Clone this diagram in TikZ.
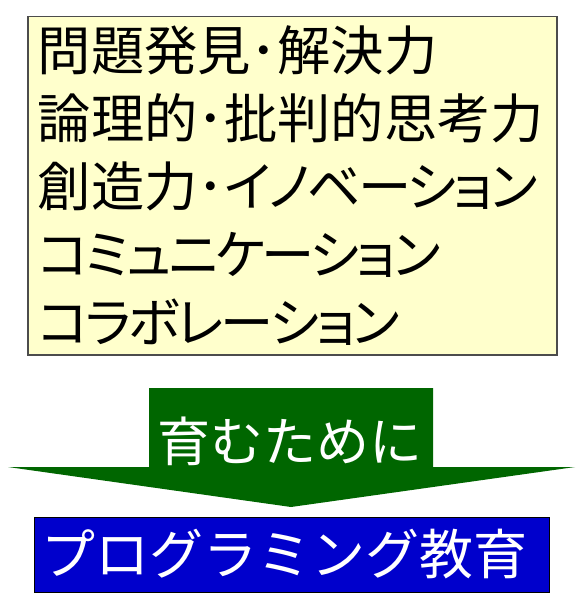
\documentclass[tikz,border=0pt]{standalone}
\usepackage{fontspec}
\newfontfamily\jpfont{Noto Sans CJK JP}
\newfontfamily\jppfont[RawFeature=+palt]{Noto Sans CJK JP}
\newfontfamily\jpkana[RawFeature=+palt,LetterSpace=-5.5]{Noto Sans CJK JP}
\newcommand{\kana}[1]{{\jpkana #1}}
\usetikzlibrary{positioning}
\definecolor{memoyellow}{HTML}{FFFFCC}
\definecolor{arrowgreen}{HTML}{006600}
\definecolor{titleblue}{HTML}{0000CC}
\tikzset{
  skills/.style={draw=black!70, line width=1.5pt, fill=memoyellow,
    anchor=north west, minimum width=529pt, minimum height=338pt,
    text width=509pt, inner xsep=10pt, align=left,
    font=\jppfont\fontsize{53.3}{68}\selectfont},
  arrowtext/.style={text=white, inner sep=0pt,
    font=\jpfont\fontsize{53}{60}\selectfont},
  titlebox/.style={draw=black, line width=1pt, fill=titleblue, text=white,
    minimum width=515pt, minimum height=75pt, inner ysep=0pt,
    inner xsep=7pt, text width=501pt, align=left,
    font=\jpfont\fontsize{54}{60}\selectfont}
}
\begin{document}
\begin{tikzpicture}[x=1pt,y=-1pt]
    \useasboundingbox (0,0) rectangle (584,615);
    \node [skills] (goals) at (27,16)
      {問題発見･解決力\\論理的･批判的思考力\\創造力･\kana{イノベーション}\\\kana{コミュニケーション}\\\kana{コラボレーション}};
    % green arrow
    \fill [arrowgreen] (149,388) -- (433,388) -- (433,467) -- (575,467)
      -- (291,507) -- (8,467) -- (149,467) -- cycle;
    \node [arrowtext] (tame) at (290,441) {育むために};
    \node [titlebox] (kyoiku) at (291.5,554.5) {プログラミング教育};
  \end{tikzpicture}
\end{document}
